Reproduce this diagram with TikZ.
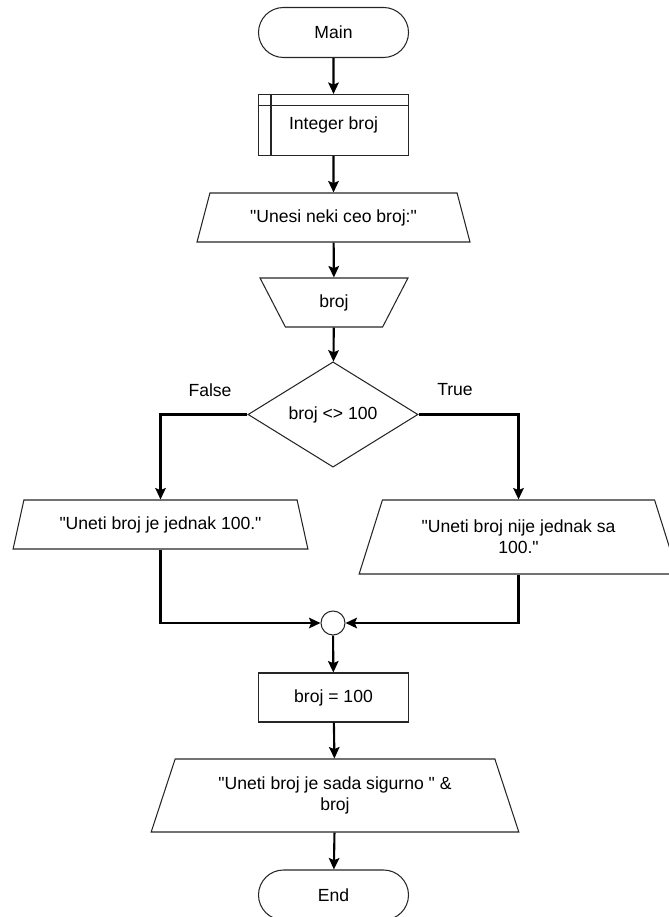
\documentclass[tikz,border=0pt]{standalone}
\usepackage{fontspec}
\setmainfont{Liberation Sans}
\usetikzlibrary{positioning, arrows.meta, shapes.geometric, shapes.misc}
\newcommand{\dq}{\textquotedbl}

\begin{document}
\begin{tikzpicture}[
    font=\fontsize{10}{12}\selectfont,
    base/.style={draw=black!85, line width=0.6pt, inner sep=0pt, align=center},
    term/.style={base, rounded rectangle, minimum width=3cm, minimum height=1cm},
    proc/.style={base, rectangle, minimum width=3cm, minimum height=0.98cm},
    iobox/.style={base, trapezium, trapezium stretches=true, trapezium left angle=64, trapezium right angle=64},
    cond/.style={base, diamond, minimum width=3.4cm, minimum height=1.94cm},
    flow/.style={line width=1.2pt, -{Stealth[length=6.5pt, width=6pt, inset=1.2pt]}}
  ]
    \useasboundingbox (0,0) rectangle (13.36,-18.34);

    % 開始
    \node[term] (main) at (6.67, -0.65) {Main};

    % 宣告
    \node[proc, minimum height=1.22cm] (decl) at (6.67, -2.50) {Integer broj};
    \draw[black!85, line width=0.6pt] ([xshift=0.26cm]decl.north west) -- ([xshift=0.26cm]decl.south west);
    \draw[black!85, line width=0.6pt] ([yshift=-0.24cm]decl.north west) -- ([yshift=-0.24cm]decl.north east);

    % 輸出 / 輸入
    \node[iobox, trapezium left angle=62, trapezium right angle=62, minimum width=5.46cm, minimum height=0.98cm] (in1) at (6.67, -4.35) {\dq Unesi neki ceo broj:\dq};
    \node[iobox, shape border rotate=180, trapezium left angle=65, trapezium right angle=65, minimum width=2.96cm, minimum height=0.98cm] (rd) at (6.68, -6.05) {broj};

    % 判斷
    \node[cond] (dec) at (6.66, -8.29) {broj <> 100};
    \node (lblF) at (4.20, -7.80) {False};
    \node (lblT) at (9.10, -7.80) {True};

    % 兩個分支
    \node[iobox, minimum width=5.9cm, minimum height=0.98cm] (outF) at (3.21, -10.49) {\dq Uneti broj je jednak 100.\dq};
    \node[iobox, minimum width=6.38cm, minimum height=1.48cm] (outT) at (10.37, -10.74) {\dq Uneti broj nije jednak sa\\100.\dq};

    % 合流
    \node[base, circle, minimum size=0.48cm] (join) at (6.66, -12.46) {};

    % 指定
    \node[proc] (asgn) at (6.67, -13.95) {broj = 100};
    \node[iobox, trapezium left angle=65, trapezium right angle=65, minimum width=7.36cm, minimum height=1.46cm] (outE) at (6.70, -15.91) {\dq Uneti broj je sada sigurno \dq{} \&\\broj};

    % 結束
    \node[term] (end) at (6.67, -17.90) {End};

    % 箭頭
    \draw[flow] (main) -- (decl);
    \draw[flow] (decl) -- (in1);
    \draw[flow] (in1) -- (rd);
    \draw[flow] (rd) -- (dec);
    \draw[flow] (dec.west) -| (outF.north);
    \draw[flow] (dec.east) -| (outT.north);
    \draw[flow] (outF.south) |- (join.west);
    \draw[flow] (outT.south) |- (join.east);
    \draw[flow] (join) -- (asgn);
    \draw[flow] (asgn) -- (outE);
    \draw[flow] (outE) -- (end);
  \end{tikzpicture}
\end{document}
